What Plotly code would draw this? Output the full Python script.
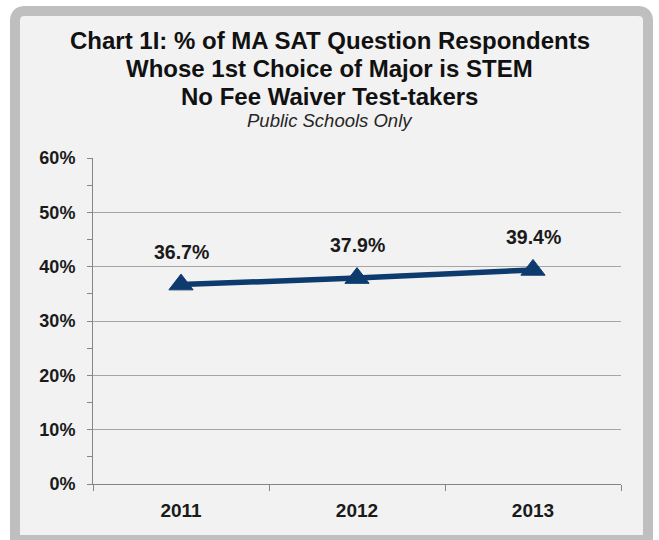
import plotly.graph_objects as go

years = ["2011", "2012", "2013"]
pct_stem = [36.7, 37.9, 39.4]
label_text = ["36.7%", "37.9%", "39.4%"]
title_lines = [
    "Chart 1I: % of MA SAT Question Respondents",
    "Whose 1st Choice of Major is STEM",
    "No Fee Waiver Test-takers",
]
subtitle = "Public Schools Only"

W, H = 659, 540
L, R, T, B = 93, 621, 158, 484  # plot area in pixels
FONT = "Liberation Sans, Arial, sans-serif"
NAVY = "#0d3b6e"


def px(xp):
    return (xp - L) / (R - L)


def py(yp):
    return (B - yp) / (B - T)


fig = go.Figure()
fig.add_trace(go.Scatter(
    x=years, y=pct_stem, mode="lines+markers",
    line=dict(color=NAVY, width=5.5),
    marker=dict(symbol="triangle-up", size=21, color=NAVY,
                line=dict(color=NAVY, width=1)),
    hoverinfo="skip", showlegend=False,
))

annotations = []
for i, (v, t) in enumerate(zip(pct_stem, label_text)):
    annotations.append(dict(
        x=i, y=v, xref="x", yref="y", text="<b>" + t + "</b>",
        showarrow=False, yshift=33, yanchor="middle",
        font=dict(family=FONT, size=19.5, color="#1a1a1a"),
    ))

title_y = [40, 68, 96]
for line, yy in zip(title_lines, title_y):
    annotations.append(dict(
        x=px(W / 2), y=py(yy), xref="paper", yref="paper",
        text="<b>" + line + "</b>", showarrow=False,
        xanchor="center", yanchor="middle",
        font=dict(family=FONT, size=24, color="#111111"),
    ))
annotations.append(dict(
    x=px(W / 2), y=py(120), xref="paper", yref="paper",
    text="<i>" + subtitle + "</i>", showarrow=False,
    xanchor="center", yanchor="middle",
    font=dict(family=FONT, size=18.5, color="#262626"),
))

# rounded frame
x0, x1, y0, y1, r = 15, 648, 11, 540, 10
frame_path = (
    f"M {px(x0 + r)},{py(y0)} L {px(x1 - r)},{py(y0)} "
    f"Q {px(x1)},{py(y0)} {px(x1)},{py(y0 + r)} "
    f"L {px(x1)},{py(y1)} L {px(x0)},{py(y1)} "
    f"L {px(x0)},{py(y0 + r)} Q {px(x0)},{py(y0)} {px(x0 + r)},{py(y0)} Z"
)
shapes = [dict(type="path", path=frame_path, xref="paper", yref="paper",
               fillcolor="#f2f2f2", line=dict(color="#bfbfbf", width=10),
               layer="below")]

fig.update_layout(
    width=W, height=H,
    margin=dict(l=L, r=W - R, t=T, b=H - B, pad=0),
    paper_bgcolor="white", plot_bgcolor="white",
    annotations=annotations, shapes=shapes,
    font=dict(family=FONT, color="#1a1a1a"),
    xaxis=dict(
        type="category", range=[-0.5, 2.5], tickson="boundaries",
        ticks="outside", ticklen=6, tickcolor="#868686", tickwidth=1,
        showline=True, linecolor="#868686", linewidth=1,
        showgrid=False, zeroline=False,
        ticklabelstandoff=9,
        tickfont=dict(family=FONT, size=19, color="#1a1a1a"),
        tickprefix="<b>", ticksuffix="</b>",
    ),
    yaxis=dict(
        range=[0, 60], dtick=10, tick0=0,
        ticks="outside", ticklen=5, tickcolor="#868686", tickwidth=1,
        showline=True, linecolor="#868686", linewidth=1,
        showgrid=True, gridcolor="#a6a6a6", gridwidth=1, zeroline=False,
        tickprefix="<b>", ticksuffix="%</b>",
        ticklabelstandoff=8,
        tickfont=dict(family=FONT, size=18, color="#1a1a1a"),
        minor=dict(dtick=5, ticks="outside", ticklen=5, tickcolor="#868686",
                   showgrid=False),
    ),
)

fig.write_html(
    "out.html",
    config={"displayModeBar": False, "staticPlot": True},
    post_script="document.body.style.margin='0';document.body.style.padding='0';",
)
